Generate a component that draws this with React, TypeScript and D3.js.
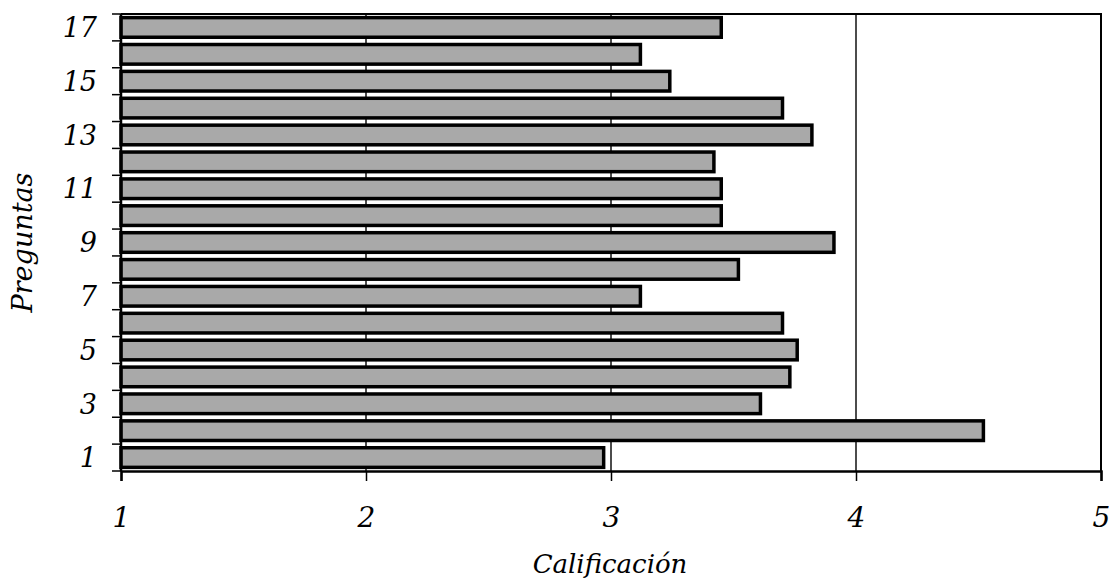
import { useEffect, useRef } from "react";
import * as d3 from "d3";

// Preguntas 1..17 y su calificación promedio
const preguntas = [
  "1", "2", "3", "4", "5", "6", "7", "8", "9",
  "10", "11", "12", "13", "14", "15", "16", "17",
];
const calificaciones = [
  2.97, 4.52, 3.61, 3.73, 3.76, 3.7, 3.12, 3.52, 3.91,
  3.45, 3.45, 3.42, 3.82, 3.7, 3.24, 3.12, 3.45,
];
const ticksX = [1, 2, 3, 4, 5];
const etiquetasY = ["1", "3", "5", "7", "9", "11", "13", "15", "17"];

export default function App() {
  const ref = useRef<SVGSVGElement>(null);

  useEffect(() => {
    if (!ref.current) return;
    const svg = d3.select(ref.current);
    svg.selectAll("*").remove();

    const W = 1109;
    const H = 583;
    const margin = { top: 14, right: 8, bottom: 112, left: 121 };
    const font = "'DejaVu Serif', serif";
    const pad = 0.27;

    const x = d3.scaleLinear().domain([1, 5]).range([margin.left, W - margin.right]);
    const y = d3
      .scaleBand<string>()
      .domain([...preguntas].reverse())
      .range([margin.top, H - margin.bottom])
      .paddingInner(pad)
      .paddingOuter(pad / 2);

    const data = preguntas.map((p, i) => ({ p, v: calificaciones[i] }));
    const top = margin.top;
    const bottom = H - margin.bottom;

    // líneas de cuadrícula
    svg
      .append("g")
      .selectAll("line")
      .data(ticksX.slice(1, -1))
      .enter()
      .append("line")
      .attr("x1", (d) => x(d))
      .attr("x2", (d) => x(d))
      .attr("y1", top)
      .attr("y2", bottom)
      .attr("stroke", "#111")
      .attr("stroke-width", 1.5);

    // barras
    svg
      .append("g")
      .selectAll("rect")
      .data(data)
      .enter()
      .append("rect")
      .attr("x", x(1))
      .attr("y", (d) => y(d.p) || 0)
      .attr("width", (d) => x(d.v) - x(1))
      .attr("height", y.bandwidth())
      .attr("fill", "#a9a9a9")
      .attr("stroke", "#000")
      .attr("stroke-width", 3.5);

    // marco superior y derecho
    svg
      .append("path")
      .attr("d", `M${x(1)},${top}H${x(5)}V${bottom}`)
      .attr("fill", "none")
      .attr("stroke", "#000")
      .attr("stroke-width", 2);

    // eje X
    const gx = svg
      .append("g")
      .attr("transform", `translate(0,${bottom})`)
      .call(d3.axisBottom(x).tickValues(ticksX).tickSize(10).tickPadding(26).tickFormat(d3.format("d")));
    gx.select(".domain").attr("stroke-width", 2.5).attr("stroke", "#000");
    gx.selectAll(".tick line").attr("stroke-width", 1.5).attr("stroke", "#000");
    gx.selectAll("text")
      .attr("font-family", font)
      .attr("font-style", "italic")
      .attr("font-size", 28)
      .attr("fill", "#000");

    // eje Y: marcas entre categorías
    const step = y.step();
    const limites = preguntas.map((p) => (y(p) || 0) - (step * pad) / 2);
    limites.push(bottom);
    svg
      .append("line")
      .attr("x1", x(1))
      .attr("x2", x(1))
      .attr("y1", top)
      .attr("y2", bottom)
      .attr("stroke", "#000")
      .attr("stroke-width", 2.5);
    svg
      .append("g")
      .selectAll("line")
      .data(limites)
      .enter()
      .append("line")
      .attr("x1", x(1) - 9)
      .attr("x2", x(1))
      .attr("y1", (d) => d)
      .attr("y2", (d) => d)
      .attr("stroke", "#000")
      .attr("stroke-width", 1.5);

    svg
      .append("g")
      .selectAll("text")
      .data(etiquetasY)
      .enter()
      .append("text")
      .attr("x", 97)
      .attr("y", (d) => (y(d) || 0) + y.bandwidth() / 2)
      .attr("dy", "0.36em")
      .attr("text-anchor", "end")
      .attr("font-family", font)
      .attr("font-style", "italic")
      .attr("font-size", 27)
      .text((d) => d);

    // títulos
    svg
      .append("text")
      .attr("x", 610)
      .attr("y", 573)
      .attr("text-anchor", "middle")
      .attr("font-family", font)
      .attr("font-style", "italic")
      .attr("font-size", 26)
      .text("Calificación");

    svg
      .append("text")
      .attr("transform", `translate(32,${(top + bottom) / 2}) rotate(-90)`)
      .attr("text-anchor", "middle")
      .attr("font-family", font)
      .attr("font-style", "italic")
      .attr("font-size", 27)
      .text("Preguntas");
  }, []);

  return (
    <svg
      ref={ref}
      width={1109}
      height={583}
      style={{ position: "absolute", left: 0, top: 0, background: "#fff" }}
    />
  );
}
